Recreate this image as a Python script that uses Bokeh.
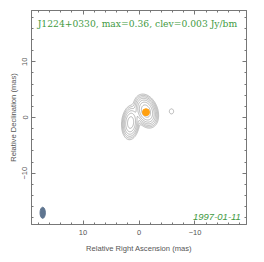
import numpy as np
from bokeh.plotting import figure
from bokeh.models import Range1d, LinearAxis, SingleIntervalTicker, Label
from bokeh.embed import file_html
from bokeh.resources import INLINE

# ---- chart data -------------------------------------------------------
source_name = "J1224+0330"
map_max = 0.36          # Jy/beam
clev = 0.003            # lowest contour, Jy/beam
epoch = "1997-01-11"

# Gaussian model components (mas, Jy/beam, FWHM mas, PA deg)
comp_x = [-1.25, 1.5, -5.8]
comp_y = [1.15, -0.9, 1.1]
comp_peak = [0.36, 0.15, 0.0045]
comp_fwhm_maj = [2.4, 2.6, 1.2]
comp_fwhm_min = [1.6, 1.35, 1.0]
comp_pa = [20.0, -5.0, 0.0]

n_levels = [0, 1, 2, 3, 4, 5, 6]

core_x = [-1.25]
core_y = [0.95]

beam_x = [17.2]
beam_y = [-17.1]
beam_major = [2.0]
beam_minor = [0.95]
beam_pa = [0.0]

tick_values = [10, 0, -10]
tick_labels = ["10", "0", "\u221210"]
half_range = 19.2

# ---- build map grid from components ------------------------------------
gx = np.linspace(-half_range, half_range, 385)
gy = np.linspace(-half_range, half_range, 385)
X, Y = np.meshgrid(gx, gy)
Z = np.zeros_like(X)
for x0, y0, pk, fmaj, fmin, pa in zip(comp_x, comp_y, comp_peak,
                                      comp_fwhm_maj, comp_fwhm_min, comp_pa):
    t = np.deg2rad(pa)
    dx, dy = X - x0, Y - y0
    u = dx * np.sin(t) + dy * np.cos(t)
    v = dx * np.cos(t) - dy * np.sin(t)
    Z += pk * np.exp(-4 * np.log(2) * ((u / fmaj) ** 2 + (v / fmin) ** 2))
levels = [clev * 2 ** n for n in n_levels]

# ---- figure -------------------------------------------------------------
AX = "#777777"
GREEN = "#3f9a3f"

p = figure(width=260, height=258, output_backend="svg", toolbar_location=None,
           x_range=Range1d(half_range, -half_range),
           y_range=Range1d(-half_range, half_range),
           min_border_left=31, min_border_right=12, min_border_top=10,
           min_border_bottom=34)
p.frame_width = 215
p.frame_height = 214
p.grid.visible = False
p.outline_line_color = AX
p.outline_line_width = 1
p.background_fill_color = "white"
p.border_fill_color = "white"

def style_axis(ax, show_labels):
    ax.ticker = SingleIntervalTicker(interval=10, num_minor_ticks=5)
    ax.major_tick_in = 4
    ax.major_tick_out = 0
    ax.minor_tick_in = 2
    ax.minor_tick_out = 0
    ax.axis_line_color = AX
    ax.major_tick_line_color = AX
    ax.minor_tick_line_color = AX
    ax.major_label_text_font = "Liberation Sans"
    ax.axis_label_text_font = "Liberation Sans"
    ax.axis_label_text_font_style = "normal"
    ax.axis_label_text_color = "#555555"
    ax.axis_label_text_font_size = "7.6px"
    if show_labels:
        ax.major_label_text_color = "#555555"
        ax.major_label_text_font_size = "7.5px"
        ax.major_label_overrides = {v: s for v, s in zip(tick_values, tick_labels)}
    else:
        ax.major_label_text_color = None
        ax.major_label_text_font_size = "1px"
        ax.major_label_standoff = 0

style_axis(p.xaxis[0], True)
style_axis(p.yaxis[0], True)
p.xaxis.axis_label = "Relative Right Ascension (mas)"
p.yaxis.axis_label = "Relative Declination (mas)"
p.xaxis.major_label_standoff = 5
p.xaxis.axis_label_standoff = 6
p.yaxis.major_label_orientation = "vertical"
p.yaxis.major_label_standoff = 4
p.yaxis.axis_label_standoff = 2

top_ax = LinearAxis()
right_ax = LinearAxis()
style_axis(top_ax, False)
style_axis(right_ax, False)
p.add_layout(top_ax, "above")
p.add_layout(right_ax, "right")

# contours
p.contour(gx, gy, Z, levels, line_color="#999999", line_width=0.7, fill_color=None)

# core marker
p.scatter(core_x, core_y, size=7, marker="circle", fill_color="#ffa010",
          line_color="#ffa010")

# beam
p.ellipse(beam_x, beam_y, width=beam_minor, height=beam_major,
          angle=[np.deg2rad(a) for a in beam_pa],
          fill_color="#5f7590", line_color="#5f7590")

# texts
title = f"{source_name}, max={map_max:.2f}, clev={clev:.3f} Jy/bm"
p.add_layout(Label(x=18.1, y=16.8, text=title, text_font="DejaVu Serif",
                   text_font_size="9.2px", text_color=GREEN, text_align="left",
                   text_baseline="alphabetic"))
p.add_layout(Label(x=-18.2, y=-17.9, text=epoch, text_font="Liberation Sans",
                   text_font_style="italic", text_font_size="9.5px",
                   text_color=GREEN, text_align="right",
                   text_baseline="alphabetic"))

open("out.html", "w").write(file_html(p, INLINE))
